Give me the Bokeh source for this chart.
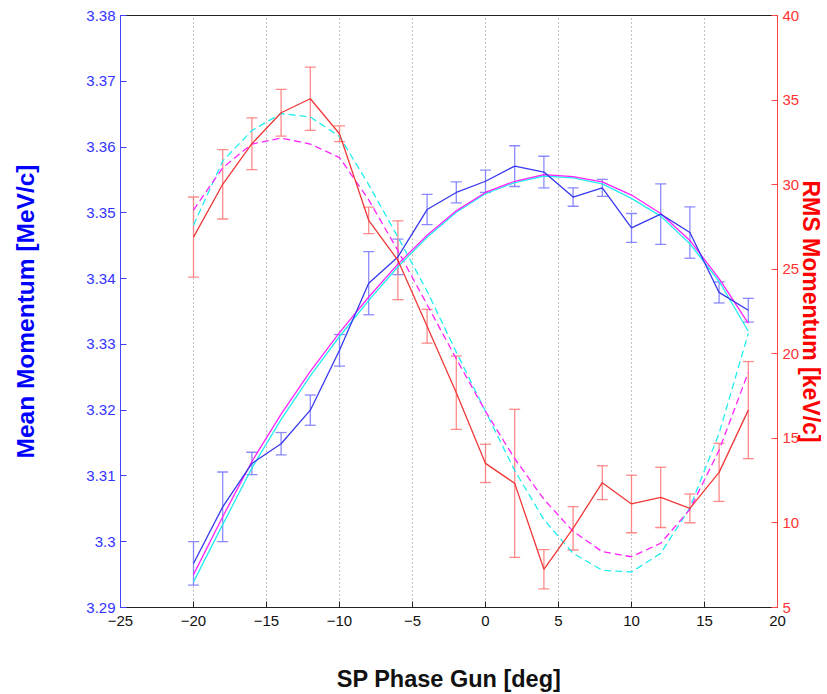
from bokeh.plotting import figure
from bokeh.models import (ColumnDataSource, Range1d, LinearAxis, Whisker, TeeHead,
                          FixedTicker, CustomJSTickFormatter)
from bokeh.embed import file_html
from bokeh.resources import INLINE

# ---- data ----
phase = [-20, -18, -16, -14, -12, -10, -8, -6, -4, -2, 0, 2, 4, 6, 8, 10, 12, 14, 16, 18]

mean_mom = [3.2967, 3.3053, 3.3119, 3.3149, 3.3200, 3.3291, 3.3393, 3.3433, 3.3505, 3.3531,
            3.3548, 3.3571, 3.3562, 3.3524, 3.3538, 3.3477, 3.3498, 3.3470, 3.3379, 3.3352]
mean_err = [0.0033, 0.0053, 0.0017, 0.0017, 0.0023, 0.0024, 0.0048, 0.0027, 0.0023, 0.0016,
            0.0017, 0.0031, 0.0024, 0.0014, 0.0013, 0.0022, 0.0046, 0.0039, 0.0016, 0.0018]

rms_mom = [26.9, 30.02, 32.42, 34.25, 35.08, 33.01, 27.89, 25.53, 21.63, 17.7,
           13.52, 12.34, 7.26, 9.68, 12.38, 11.12, 11.51, 10.86, 12.99, 16.67]
rms_err = [2.37, 2.05, 1.53, 1.38, 1.87, 0.47, 0.78, 2.33, 1.0, 2.17,
           1.13, 4.38, 1.16, 1.28, 1.0, 1.7, 1.78, 0.85, 1.72, 2.87]

# fitted curves (mean momentum, left axis)
fit_mean_magenta = [3.2950, 3.3038, 3.3122, 3.3194, 3.3259, 3.3318, 3.3372, 3.3422, 3.3466, 3.3503,
                    3.3531, 3.3548, 3.3558, 3.3555, 3.3547, 3.3527, 3.3499, 3.3458, 3.3400, 3.3332]
fit_mean_cyan = [3.2939, 3.3026, 3.3112, 3.3186, 3.3252, 3.3312, 3.3367, 3.3418, 3.3463, 3.3501,
                 3.3529, 3.3546, 3.3556, 3.3553, 3.3544, 3.3522, 3.3495, 3.3453, 3.3396, 3.3320]

# fitted curves (rms momentum, right axis)
fit_rms_magenta = [28.5, 31.0, 32.4, 32.75, 32.4, 31.6, 29.1, 26.1, 22.9, 19.7,
                   16.6, 13.8, 11.4, 9.5, 8.3, 8.0, 8.8, 10.8, 14.3, 18.9]
fit_rms_cyan = [27.6, 31.4, 33.2, 34.2, 34.0, 32.85, 30.0, 26.9, 23.7, 20.1,
                16.6, 13.1, 10.2, 8.2, 7.2, 7.1, 8.2, 10.9, 15.3, 21.2]

x_ticks = [-25, -20, -15, -10, -5, 0, 5, 10, 15, 20]
left_ticks = [3.29, 3.30, 3.31, 3.32, 3.33, 3.34, 3.35, 3.36, 3.37, 3.38]
right_ticks = [5, 10, 15, 20, 25, 30, 35, 40]

FONT = "Liberation Sans"
BLUE = "#0000ff"
RED = "#ff0000"

p = figure(width=827, height=694, output_backend="svg", toolbar_location=None,
           x_range=Range1d(-25, 20), y_range=Range1d(3.29, 3.38),
           min_border_left=120, min_border_right=49, min_border_top=15, min_border_bottom=87)
p.extra_y_ranges = {"rms": Range1d(5, 40)}
p.background_fill_color = "white"
p.border_fill_color = "white"
p.outline_line_color = "#222222"
p.outline_line_width = 1

# grid
p.xgrid.ticker = FixedTicker(ticks=x_ticks)
p.xgrid.grid_line_color = "#888888"
p.xgrid.grid_line_dash = "1 3"
p.xgrid.grid_line_width = 1
p.ygrid.grid_line_color = None

# x axis
xa = p.xaxis[0]
xa.ticker = FixedTicker(ticks=x_ticks)
xa.formatter = CustomJSTickFormatter(code="return tick < 0 ? '\u2212' + Math.abs(tick) : String(tick);")
xa.axis_label = "SP Phase Gun [deg]"
xa.axis_label_text_font = FONT
xa.axis_label_text_font_style = "bold"
xa.axis_label_text_font_size = "23.5px"
xa.axis_label_text_color = "#111111"
xa.axis_label_text_line_height = 0.9
xa.axis_label_standoff = 37
xa.major_label_text_font = FONT
xa.major_label_text_font_size = "15px"
xa.major_label_text_color = "#111111"
xa.major_label_standoff = 8
xa.major_tick_in = 6
xa.major_tick_out = 0
xa.minor_tick_line_color = None
xa.axis_line_color = "#222222"
xa.major_tick_line_color = "#222222"

# left axis
ya = p.yaxis[0]
ya.ticker = FixedTicker(ticks=left_ticks)
ya.formatter = CustomJSTickFormatter(code="return String(Math.round(tick*100)/100);")
ya.axis_label = "Mean Momentum [MeV/c]"
ya.axis_label_text_font = FONT
ya.axis_label_text_font_style = "bold"
ya.axis_label_text_font_size = "24.5px"
ya.axis_label_text_color = BLUE
ya.axis_label_standoff = 44
ya.major_label_text_font = FONT
ya.major_label_text_font_size = "15px"
ya.major_label_text_color = "#3333ff"
ya.major_label_standoff = 5
ya.major_tick_in = 6
ya.major_tick_out = 0
ya.minor_tick_line_color = None
ya.axis_line_color = "#4444ff"
ya.major_tick_line_color = "#4444ff"

# right axis
ra = LinearAxis(y_range_name="rms", ticker=FixedTicker(ticks=right_ticks))
ra.axis_label = "RMS Momentum [keV/c]"
ra.axis_label_text_font = FONT
ra.axis_label_text_font_style = "bold"
ra.axis_label_text_font_size = "23px"
ra.axis_label_text_color = RED
ra.axis_label_text_line_height = 0.8
ra.axis_label_standoff = -4
ra.major_label_text_font = FONT
ra.major_label_text_font_size = "15px"
ra.major_label_text_color = "#ff3333"
ra.major_label_standoff = 5
ra.major_tick_in = 6
ra.major_tick_out = 0
ra.minor_tick_line_color = None
ra.axis_line_color = "#ff4444"
ra.major_tick_line_color = "#ff4444"
p.add_layout(ra, "right")

src = ColumnDataSource(dict(
    x=phase, mean=mean_mom,
    mean_lo=[m - e for m, e in zip(mean_mom, mean_err)],
    mean_hi=[m + e for m, e in zip(mean_mom, mean_err)],
    rms=rms_mom,
    rms_lo=[m - e for m, e in zip(rms_mom, rms_err)],
    rms_hi=[m + e for m, e in zip(rms_mom, rms_err)],
    fmm=fit_mean_magenta, fmc=fit_mean_cyan,
    frm=fit_rms_magenta, frc=fit_rms_cyan,
))

# dashed fits for rms
p.line("x", "frc", source=src, y_range_name="rms", line_color="#22eeee", line_width=1.3, line_dash="7 4")
p.line("x", "frm", source=src, y_range_name="rms", line_color="#ff22ff", line_width=1.3, line_dash="7 4")

# solid fits for mean
p.line("x", "fmc", source=src, line_color="#22eeee", line_width=1.3)
p.line("x", "fmm", source=src, line_color="#ff22ff", line_width=1.3)

# error bars
wb = Whisker(base="x", lower="mean_lo", upper="mean_hi", source=src,
             line_color="#7777ff", line_width=1.3, line_alpha=0.85,
             upper_head=TeeHead(size=11, line_color="#7777ff", line_width=1.3, line_alpha=0.85),
             lower_head=TeeHead(size=11, line_color="#7777ff", line_width=1.3, line_alpha=0.85))
p.add_layout(wb)
wr = Whisker(base="x", lower="rms_lo", upper="rms_hi", source=src, y_range_name="rms",
             line_color="#ff7777", line_width=1.3, line_alpha=0.85,
             upper_head=TeeHead(size=11, line_color="#ff7777", line_width=1.3, line_alpha=0.85),
             lower_head=TeeHead(size=11, line_color="#ff7777", line_width=1.3, line_alpha=0.85))
p.add_layout(wr)

# data lines
p.line("x", "mean", source=src, line_color="#3838f0", line_width=1.3)
p.line("x", "rms", source=src, y_range_name="rms", line_color="#f03838", line_width=1.3)

open("out.html", "w").write(file_html(p, INLINE))
